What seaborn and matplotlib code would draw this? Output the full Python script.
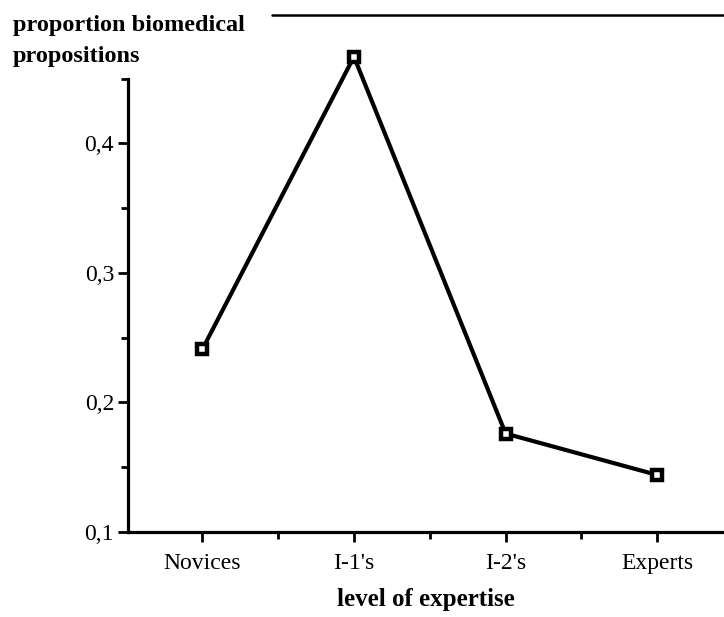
import matplotlib
matplotlib.use('Agg')
import matplotlib.pyplot as plt
import seaborn as sns
from matplotlib.lines import Line2D
from matplotlib.ticker import FixedLocator

# data
groups = ["Novices", "I-1's", "I-2's", "Experts"]
proportion = [0.241, 0.467, 0.176, 0.144]
y_ticks = [0.1, 0.2, 0.3, 0.4]
y_tick_labels = ["0,1", "0,2", "0,3", "0,4"]
y_minor = [0.15, 0.25, 0.35, 0.45]
x_minor = [0.5, 1.5, 2.5]

sns.set_style("ticks")
plt.rcParams['font.family'] = ['Liberation Serif', 'DejaVu Serif']
plt.rcParams['text.color'] = 'black'
plt.rcParams['axes.labelcolor'] = 'black'

fig = plt.figure(figsize=(7.24, 6.17), dpi=100)
ax = fig.add_axes([0.1768, 0.1378, 0.8232, 0.7346])

sns.lineplot(x=groups, y=proportion, sort=False, ax=ax, color='black',
             lw=3, marker='s', ms=7.5, mfc='white', mec='black', mew=3.2,
             clip_on=False, zorder=5)

ax.set_xlim(-0.49, 3.44)
ax.set_ylim(0.1, 0.45)
ax.set_yticks(y_ticks)
ax.set_yticklabels(y_tick_labels)
ax.yaxis.set_minor_locator(FixedLocator(y_minor))
ax.xaxis.set_minor_locator(FixedLocator(x_minor))

sns.despine(ax=ax)
for s in ['left', 'bottom']:
    ax.spines[s].set_linewidth(2.3)
    ax.spines[s].set_color('black')

ax.tick_params(axis='both', which='major', direction='out', length=7, width=2,
               color='black', labelsize=17, labelcolor='black')
ax.tick_params(axis='both', which='minor', direction='out', length=5, width=2,
               color='black')
ax.tick_params(axis='x', which='major', pad=8)
ax.tick_params(axis='y', which='major', pad=3)

ax.set_xlabel("level of expertise", fontsize=18, fontweight='bold', labelpad=10,
              color='black')
ax.set_ylabel("")

fig.text(0.018, 0.975, "proportion biomedical\npropositions", ha='left', va='top',
         fontsize=17.5, fontweight='bold', linespacing=1.6, color='black')

# frame line at the top of the figure
fig.add_artist(Line2D([0.375, 1.0], [0.976, 0.976], color='black', lw=1.8,
                      transform=fig.transFigure))

fig.savefig('out.png', dpi=100)
